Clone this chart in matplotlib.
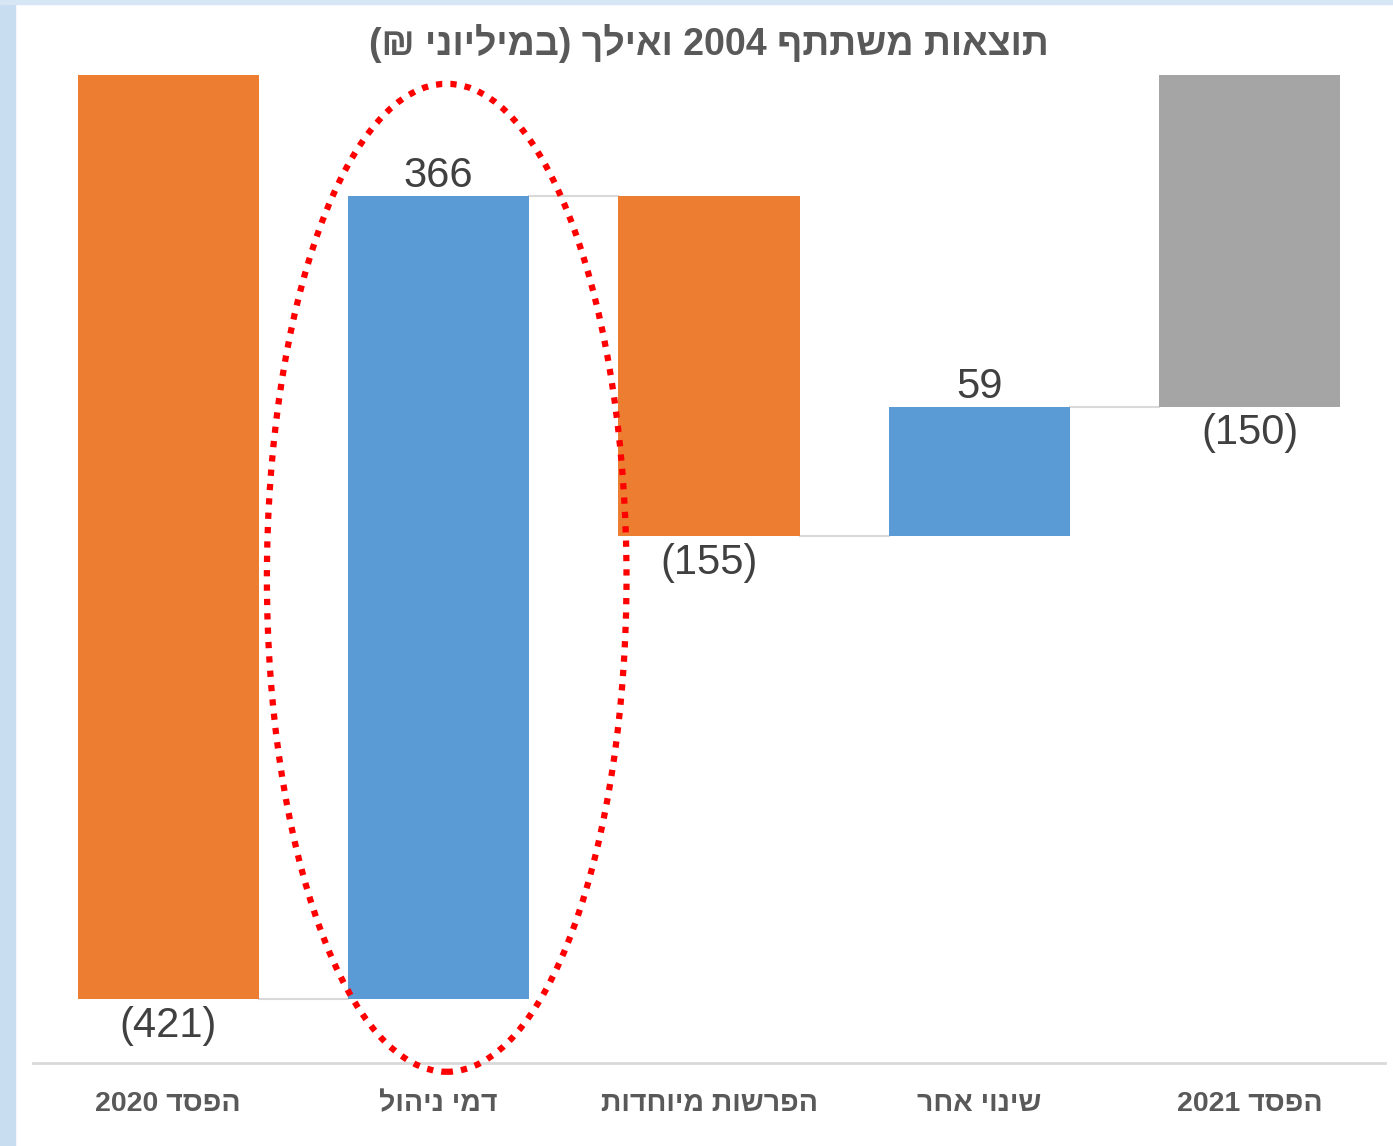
import re

import matplotlib
matplotlib.use("Agg")
import matplotlib.pyplot as plt
from matplotlib.patches import Ellipse, Rectangle


def heb(s):
    # matplotlib has no bidi: build the visual (left-to-right) order by hand
    out = s[::-1]
    out = re.sub(r"\d+", lambda m: m.group(0)[::-1], out)
    return out.translate(str.maketrans("()", ")("))


TITLE = "תוצאות משתתף 2004 ואילך (במיליוני ₪)"
categories = ["הפסד 2020", "דמי ניהול", "הפרשות מיוחדות", "שינוי אחר", "הפסד 2021"]
changes = [-421, 366, -155, 59, None]   # last bar = running total
kinds = ["total", "delta", "delta", "delta", "total"]
value_labels = ["(421)", "366", "(155)", "59", "(150)"]

ORANGE = "#ED7D31"
BLUE = "#5B9BD5"
GRAY = "#A5A5A5"
TXT = "#404040"
CAT_TXT = "#595959"
NARROW = ["Liberation Sans Narrow", "Liberation Sans", "DejaVu Sans"]
REGULAR = ["Liberation Sans", "DejaVu Sans"]

# waterfall bases
bottoms, heights, levels, colors = [], [], [], []
level = 0
for i, (v, k) in enumerate(zip(changes, kinds)):
    if k == "total":
        if v is None:
            v = level
        bottoms.append(0)
        heights.append(v)
        level = v
        colors.append(GRAY if i == len(changes) - 1 else ORANGE)
    else:
        bottoms.append(level)
        heights.append(v)
        level = level + v
        colors.append(ORANGE if v < 0 else BLUE)
    levels.append(level)

W = 0.67
x = list(range(len(categories)))

fig = plt.figure(figsize=(13.93, 11.46), dpi=100)
fig.patches.append(Rectangle((0, 0), 15 / 1393, 1, transform=fig.transFigure,
                             color="#C9DDF0", zorder=0))
fig.patches.append(Rectangle((0, 1 - 4 / 1146), 1, 4 / 1146, transform=fig.transFigure,
                             color="#D6E6F4", zorder=0))

ax = fig.add_axes([33 / 1393, 1 - 1063 / 1146, 1352 / 1393, 988 / 1146])
ax.bar(x, heights, bottom=bottoms, width=W, color=colors, zorder=2)

# connectors
for i in range(len(x) - 1):
    ax.plot([x[i] + W / 2, x[i + 1] - W / 2], [levels[i], levels[i]],
            color="#D9D9D9", lw=1.5, zorder=1)

# value labels
for i, (b, h, lab) in enumerate(zip(bottoms, heights, value_labels)):
    if kinds[i] == "delta" and h > 0:
        ax.annotate(lab, (x[i], b + h), xytext=(0, 0), textcoords="offset points",
                    ha="center", va="bottom", fontsize=30, color=TXT, family=REGULAR)
    else:
        ax.annotate(lab, (x[i], b + h), xytext=(0, -5), textcoords="offset points",
                    ha="center", va="top", fontsize=30, color=TXT, family=REGULAR)

# highlight around the management-fee bar
ell = Ellipse((x[1] + 0.03, (bottoms[1] + levels[1]) / 2 + 9), 1.33, 450,
              fill=False, edgecolor="#FF0000", lw=4.5, linestyle=(0, (1, 1.3)),
              clip_on=False, zorder=3)
ax.add_patch(ell)

ax.set_xlim(-0.5, 4.5)
ax.set_ylim(-450, 0)
ax.set_xticks(x)
ax.set_xticklabels([heb(c) for c in categories], fontsize=20.5, fontweight="bold",
                   color=CAT_TXT, family=NARROW)
ax.tick_params(axis="x", length=0, pad=20)
ax.set_yticks([])
for s in ["top", "left", "right"]:
    ax.spines[s].set_visible(False)
ax.spines["bottom"].set_color("#D9D9D9")
ax.spines["bottom"].set_linewidth(2)

fig.text(709 / 1393, 1 - 43 / 1146, heb(TITLE), ha="center", va="center",
         fontsize=27, fontweight="bold", color=CAT_TXT, family=NARROW)

fig.savefig("out.png", dpi=100)
